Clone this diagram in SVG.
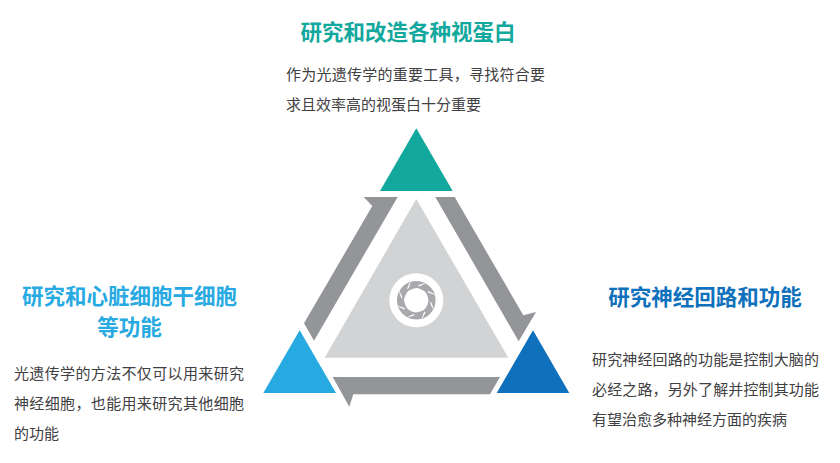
<svg xmlns="http://www.w3.org/2000/svg" width="840" height="463" viewBox="0 0 840 463">
<style>
text{font-family:"Noto Sans CJK SC","Noto Sans",sans-serif}
.t{font-size:21.5px;font-weight:700;text-anchor:middle}
.b{font-size:15px;fill:#414042}
.g{fill:#939598}
.blade{fill:#a7a9ac}
</style>
<defs><path id="blade" d="M-5.5-18.5Q1-20.5 9-17.5L2-15L2-12.5Q-5-12-10.5-7.5L-7-13.5Z" class="blade"/></defs>
<rect width="840" height="463" fill="#fff"/>
<g id="connectors">
<polygon class="g" points="435.3,197 454.7,197 523.3,315.3 536,312 518.7,341.3"/>
<polygon class="g" points="500,377 490,394.3 353.3,394.3 349.3,406.7 332.7,377"/>
<polygon class="g" points="397.7,197 363.7,197 372.3,206 304,323.3 314,340.7"/>
</g>
<g id="center">
<polygon fill="#d1d3d4" points="416.3,199 324.7,357.7 508.3,357.7"/>
<circle cx="416.3" cy="300.3" r="27" fill="#fff"/>
<g transform="translate(416.3,300.3)">
<use href="#blade"/><use href="#blade" transform="rotate(45)"/><use href="#blade" transform="rotate(90)"/><use href="#blade" transform="rotate(135)"/><use href="#blade" transform="rotate(180)"/><use href="#blade" transform="rotate(225)"/><use href="#blade" transform="rotate(270)"/><use href="#blade" transform="rotate(315)"/>
</g>
</g>
<g id="node-top">
<polygon fill="#12a89d" points="416.3,128.3 380,191 452.7,191"/>
<text class="t" x="408" y="40" fill="#12a89d">研究和改造各种视蛋白</text>
<text class="b" x="286" y="80" textLength="259">作为光遗传学的重要工具，寻找符合要</text>
<text class="b" x="286" y="110" textLength="195">求且效率高的视蛋白十分重要</text>
</g>
<g id="node-left">
<polygon fill="#27aae1" points="299.7,330.3 263.3,393 336,393"/>
<text class="t" x="129.5" y="304" fill="#27aae1">研究和心脏细胞干细胞</text>
<text class="t" x="129.5" y="335" fill="#27aae1">等功能</text>
<text class="b" x="14" y="379" textLength="230">光遗传学的方法不仅可以用来研究</text>
<text class="b" x="14" y="409" textLength="230">神经细胞，也能用来研究其他细胞</text>
<text class="b" x="14" y="439" textLength="45">的功能</text>
</g>
<g id="node-right">
<polygon fill="#0f71bc" points="533,330.3 496.7,393 569.3,393"/>
<text class="t" x="705" y="305" fill="#0f71bc">研究神经回路和功能</text>
<text class="b" x="592" y="365" textLength="227">研究神经回路的功能是控制大脑的</text>
<text class="b" x="592" y="395" textLength="227">必经之路，另外了解并控制其功能</text>
<text class="b" x="592" y="425" textLength="195">有望治愈多种神经方面的疾病</text>
</g>
</svg>
